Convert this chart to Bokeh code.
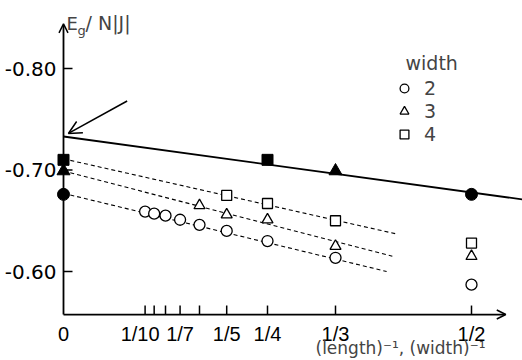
from bokeh.plotting import figure
from bokeh.models import Range1d, Arrow, OpenHead, Label, Legend, LegendItem
from bokeh.embed import file_html
from bokeh.resources import INLINE

# ---------------- data ----------------
# inverse length, E_g/N|J| for widths 2, 3, 4 (open markers)
inv_len_w2 = [1/10, 1/9, 1/8, 1/7, 1/6, 1/5, 1/4, 1/3, 1/2]
E_w2 = [-0.659, -0.657, -0.655, -0.651, -0.646, -0.640, -0.630, -0.6135, -0.587]
inv_len_w3 = [1/6, 1/5, 1/4, 1/3, 1/2]
E_w3 = [-0.665, -0.656, -0.651, -0.625, -0.615]
inv_len_w4 = [1/5, 1/4, 1/3, 1/2]
E_w4 = [-0.675, -0.667, -0.650, -0.628]

# extrapolated (length -> infinity) values, widths 2, 3, 4
E_inf = [-0.676, -0.699, -0.710]
inv_width = [1/2, 1/3, 1/4]

# extrapolation lines (dashed, per width) and solid (width -> infinity)
dash_x_w2 = [0, 0.396]; dash_y_w2 = [-0.677, -0.600]
dash_x_w3 = [0, 0.403]; dash_y_w3 = [-0.699, -0.615]
dash_x_w4 = [0, 0.408]; dash_y_w4 = [-0.711, -0.637]
solid_x = [0, 0.5625]; solid_y = [-0.733, -0.671]

xtick_vals = [0, 1/10, 1/9, 1/8, 1/7, 1/6, 1/5, 1/4, 1/3, 1/2]
xtick_labels = ["0", "1/10", "", "", "1/7", "", "1/5", "1/4", "1/3", "1/2"]
ytick_vals = [-0.80, -0.70, -0.60]
ytick_labels = ["-0.80", "-0.70", "-0.60"]
legend_title = "width"
legend_labels = ["2", "3", "4"]

# ---------------- style ----------------
FONT = "DejaVu Sans"
XFONT = "Liberation Sans"
xlabel_dx = [0, -5, 0, 0, 0, 0, 0, 0, 0, 0]   # pixel nudges of the x tick labels
PX_X = 816.0    # pixels per unit of x
PX_Y = 1015.0   # pixels per unit of y
X_MIN = -63 / PX_X
X_MAX = 459 / PX_X
Y_AXIS = -0.5576          # position of the horizontal axis
Y_LOW = -0.80 + 292 / PX_Y
Y_HIGH = -0.80 - 68 / PX_Y
TICK = 9

p = figure(width=522, height=360, output_backend="svg", toolbar_location=None,
           x_range=Range1d(X_MIN, X_MAX), y_range=Range1d(Y_LOW, Y_HIGH),
           x_axis_location=None, y_axis_location=None,
           min_border_left=0, min_border_right=0, min_border_top=0, min_border_bottom=0)
p.outline_line_color = None
p.grid.visible = False
p.background_fill_color = "white"
p.border_fill_color = "white"

# axis lines with arrow heads
p.add_layout(Arrow(x_start=0, y_start=Y_AXIS, x_end=0.542, y_end=Y_AXIS, line_width=1.8,
                   end=OpenHead(size=9, line_width=1.5)))
p.add_layout(Arrow(x_start=0, y_start=Y_AXIS, x_end=0, y_end=-0.844, line_width=1.8,
                   end=OpenHead(size=9, line_width=1.5)))

# ticks (inward)
xt = xtick_vals[1:]
p.segment(x0=xt, y0=[Y_AXIS] * len(xt), x1=xt, y1=[Y_AXIS - TICK / PX_Y] * len(xt),
          line_color="black", line_width=1.5)
p.segment(x0=[0] * len(ytick_vals), y0=ytick_vals, x1=[TICK / PX_X] * len(ytick_vals),
          y1=ytick_vals, line_color="black", line_width=1.5)

# tick labels
p.text(x=xtick_vals, y=[Y_AXIS] * len(xtick_vals), text=xtick_labels,
       x_offset=xlabel_dx, text_align="center", text_baseline="alphabetic", y_offset=19,
       text_font={"value": XFONT}, text_font_size="20px", text_color="black")
p.text(x=[0] * len(ytick_vals), y=ytick_vals, text=ytick_labels,
       text_align="right", text_baseline="middle", x_offset=-7,
       text_font={"value": FONT}, text_font_size="20px", text_color="black")

# lines
p.line(solid_x, solid_y, line_color="black", line_width=1.8)
for xs, ys in ((dash_x_w2, dash_y_w2), (dash_x_w3, dash_y_w3), (dash_x_w4, dash_y_w4)):
    p.line(xs, ys, line_color="black", line_width=1.1, line_dash="4 3")

# open markers
r2 = p.scatter(inv_len_w2, E_w2, marker="circle", size=11, fill_color="white",
               line_color="black", line_width=1.3)
r3 = p.scatter(inv_len_w3, E_w3, marker="triangle", size=11, fill_color="white",
               line_color="black", line_width=1.3)
r4 = p.scatter(inv_len_w4, E_w4, marker="square", size=10, fill_color="white",
               line_color="black", line_width=1.3)

# filled markers: at x=0 and at 1/width
markers = ["circle", "triangle", "square"]
msizes = [12, 13, 11]
for i in range(3):
    p.scatter([0, inv_width[i]], [E_inf[i], E_inf[i]], marker=markers[i], size=msizes[i],
              fill_color="black", line_color="black")

# pointer arrow to the intercept
p.add_layout(Arrow(x_start=0.078, y_start=-0.768, x_end=0.006, y_end=-0.736, line_width=1.5,
                   end=OpenHead(size=13, line_width=1.5)))

# axis titles
def lab(x, y, text, size, font=FONT):
    p.add_layout(Label(x=x, y=y, x_units="screen", y_units="screen", text=text,
                       text_font=font, text_font_size=size))

lab(66, 327, "E", "18px")
lab(77, 323, "g", "13px")
lab(85, 327, "/ N|J|", "19px")
lab(315, 3, "(length)\u207b\u00b9, (width)\u207b\u00b9", "17px")

# legend
lab(405, 287, legend_title, "19px")
legend = Legend(items=[LegendItem(label=legend_labels[0], renderers=[r2]),
                       LegendItem(label=legend_labels[1], renderers=[r3]),
                       LegendItem(label=legend_labels[2], renderers=[r4])],
                location=(393, 215),
                label_text_font=FONT, label_text_font_size="19px",
                glyph_width=22, glyph_height=22, label_standoff=9, spacing=1, padding=5,
                margin=0, border_line_color=None, background_fill_alpha=0)
p.add_layout(legend)

open("out.html", "w").write(file_html(p, INLINE))
